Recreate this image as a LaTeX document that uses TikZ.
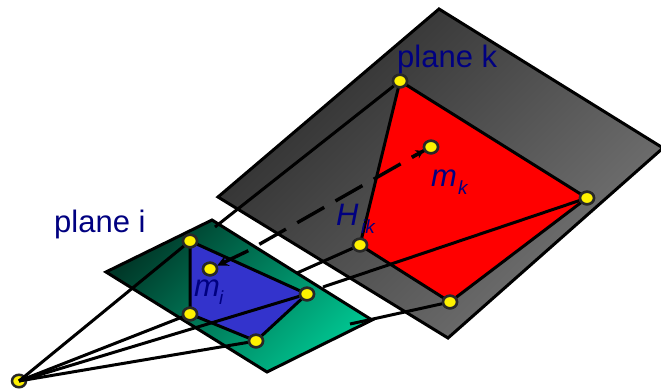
\documentclass[tikz,border=0pt]{standalone}
\usepackage{fontspec}
\setmainfont{Liberation Sans}
\usetikzlibrary{shapes.geometric,arrows.meta}
\definecolor{navytext}{RGB}{0,0,128}
\definecolor{kdark}{RGB}{44,44,44}
\definecolor{klight}{RGB}{118,118,118}
\definecolor{idark}{RGB}{0,56,40}
\definecolor{ilight}{RGB}{0,196,144}
\definecolor{blueq}{RGB}{51,51,204}
\definecolor{ptline}{RGB}{40,40,40}
\tikzset{
  pt/.style={ellipse,draw=ptline,fill=yellow,line width=2.5pt,minimum width=14pt,minimum height=12.5pt,inner sep=0pt},
  ray/.style={draw=black,line width=3pt},
  edge/.style={draw=black,line width=3pt,line join=miter},
  lab/.style={text=navytext,font=\fontsize{31}{31}\selectfont,inner sep=0pt,anchor=base west},
  ilab/.style={lab,font=\fontsize{31}{31}\selectfont\itshape},
  sub/.style={text=navytext,font=\fontsize{19}{19}\selectfont\itshape,inner sep=0pt,anchor=base west},
  dashline/.style={draw=black,line width=3.4pt,dash pattern=on 31pt off 13pt,dash phase=16pt},
  arrowline/.style={draw=black,line width=3.4pt,-{Stealth[length=11pt,width=11pt]}}
}
\begin{document}
\begin{tikzpicture}[x=1pt,y=-1pt]
\useasboundingbox (0,0) rectangle (661,391);
% plane k
\path[edge,left color=klight,right color=kdark,shading angle=-135] (439,9) -- (663,148) -- (448,338) -- (218,197) -- cycle;
% red
\coordinate (r1) at (400,81); \coordinate (r2) at (587,198); \coordinate (r3) at (450,302); \coordinate (r4) at (360,245);
\path[edge,fill=red] (r1) -- (r2) -- (r3) -- (r4) -- cycle;
% plane i
\path[edge,left color=ilight,right color=idark,shading angle=-135] (212,220) -- (372,320) -- (267,372) -- (106,272) -- cycle;
% blue
\coordinate (b1) at (190,241); \coordinate (b2) at (307,294); \coordinate (b3) at (256,341); \coordinate (b4) at (190,314);
\path[edge,fill=blueq] (b1) -- (b2) -- (b3) -- (b4) -- cycle;
% free ends
\coordinate (e1) at (215,227);
\coordinate (e2) at (297,273);
\coordinate (e3) at (323,287);
\coordinate (e4) at (350,324);
\coordinate (e5) at (373,319);
\coordinate (d1) at (425,150);
\coordinate (d2) at (259.3,244.3);
\coordinate (d3) at (248.3,250.7);
\coordinate (d5) at (411.7,157);
% points
\node[pt] (eye) at (19,381) {};
\node[pt] (A) at (190,241) {};
\node[pt] (B) at (307,294) {};
\node[pt] (C) at (256,341) {};
\node[pt] (D) at (190,314) {};
\node[pt] (R1) at (400,81) {};
\node[pt] (R2) at (587,198) {};
\node[pt] (R3) at (450,302) {};
\node[pt] (R4) at (360,245) {};
\node[pt] (mi) at (210,269) {};
\node[pt] (mk) at (431,147) {};
% rays
\draw[ray] (eye.center) -- (A);
\draw[ray] (eye.center) -- (D);
\draw[ray] (eye.center) -- (B);
\draw[ray] (eye.center) -- (C);
\draw[ray] (R1) -- (e1);
\draw[ray] (R4) -- (e2);
\draw[ray] (R2) -- (e3);
\draw[ray] (R3) -- (e5) -- (e4);
\draw[dashline] (d1) -- (d2);
\draw[arrowline] (d3) -- (mi);
\draw[draw=black,line width=3pt,-{Stealth[length=8pt,width=9pt]}] (d5) -- (mk);
% points over rays
\node[pt] at (A) {};
\node[pt] at (B) {};
\node[pt] at (C) {};
\node[pt] at (D) {};
\node[pt] at (R1) {};
\node[pt] at (R2) {};
\node[pt] at (R3) {};
\node[pt] at (R4) {};
\node[pt] at (mi) {};
\node[pt] at (mk) {};
% labels
\node[lab] (lk) at (397,67) {plane k};
\node[lab] (li) at (54,232) {plane i};
\node[ilab] (tH) at (336,225) {H};
\node[sub] (tik) at (361,233) {ik};
\node[ilab] (tmk) at (431,186) {m};
\node[sub] (tk) at (458,194) {k};
\node[ilab] (tmi) at (194,296) {m};
\node[sub] (ti) at (219,304) {i};
\end{tikzpicture}
\end{document}
